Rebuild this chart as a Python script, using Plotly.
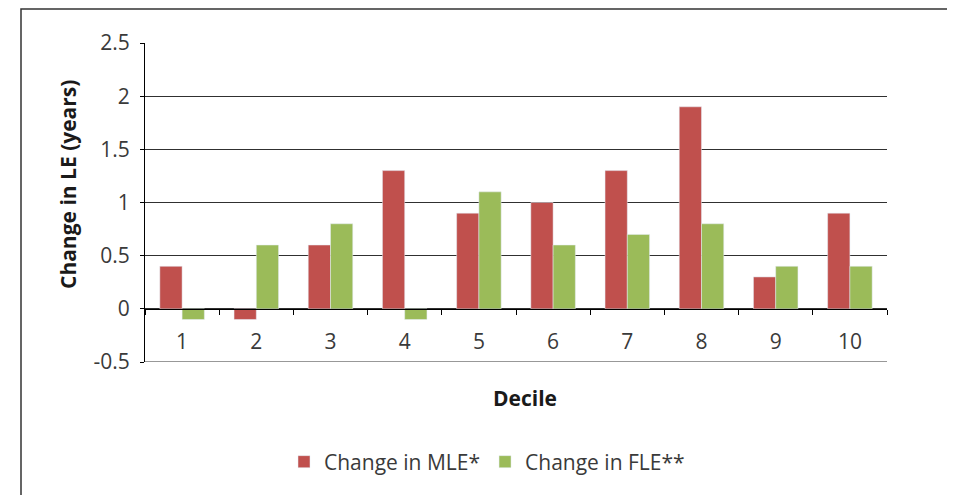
import plotly.graph_objects as go

deciles = ["1", "2", "3", "4", "5", "6", "7", "8", "9", "10"]
mle = [0.4, -0.1, 0.6, 1.3, 0.9, 1.0, 1.3, 1.9, 0.3, 0.9]
fle = [-0.1, 0.6, 0.8, -0.1, 1.1, 0.6, 0.7, 0.8, 0.4, 0.4]
y_ticks = [-0.5, 0, 0.5, 1, 1.5, 2, 2.5]
y_tick_text = ["-0.5", "0", "0.5", "1", "1.5", "2", "2.5"]

OFF = 8  # browser body margin
W, H = 955 - OFF, 495 - OFF
L, T = 145 - OFF, 43 - OFF
PW, PH = 742, 319
R, B = W - L - PW, H - T - PH

def px_x(x):  # page px -> paper fraction
    return (x - OFF - L) / PW

def px_y(y):
    return (T + PH - (y - OFF)) / PH

FONT = "Open Sans"
TXT = "#3a3a3a"
FS = 21
GRID = "#303030"

fig = go.Figure()
fig.add_trace(go.Bar(x=deciles, y=mle, name="Change in MLE*", marker_color="#C0504D"))
fig.add_trace(go.Bar(x=deciles, y=fle, name="Change in FLE**", marker_color="#9BBB59"))

fig.update_layout(
    width=W, height=H,
    margin=dict(l=L, r=R, t=T, b=B, pad=0),
    paper_bgcolor="white", plot_bgcolor="white",
    barmode="group", bargap=0.4, bargroupgap=0,
    font=dict(family=FONT, size=FS, color=TXT),
    showlegend=True,
    legend=dict(orientation="h", x=px_x(487), y=px_y(462), xanchor="center", yanchor="middle",
                font=dict(family=FONT, size=FS, color=TXT), itemwidth=30,
                traceorder="normal"),
    xaxis=dict(
        type="category", anchor="free", position=1/6,
        showline=True, linecolor="#000000", linewidth=1,
        ticks="outside", tickson="boundaries", ticklen=5, tickcolor="#000000",
        ticklabelstandoff=14, showgrid=False, zeroline=False,
        tickfont=dict(family=FONT, size=FS, color=TXT),
    ),
    yaxis=dict(
        range=[-0.5, 2.5], tickvals=y_ticks, ticktext=y_tick_text,
        showline=True, linecolor="#000000", linewidth=1,
        ticks="outside", ticklen=4, tickcolor="#000000",
        showgrid=True, gridcolor=GRID, gridwidth=1,
        zeroline=False, ticklabelstandoff=6,
        tickfont=dict(family=FONT, size=FS, color=TXT),
    ),
    annotations=[
        dict(text="<b>Change in LE (years)</b>", xref="paper", yref="paper",
             x=px_x(68), y=px_y(185), textangle=-90, showarrow=False,
             xanchor="center", yanchor="middle",
             font=dict(family=FONT, size=FS, color="#1a1a1a")),
        dict(text="<b>Decile</b>", xref="paper", yref="paper",
             x=px_x(525), y=px_y(398), showarrow=False,
             xanchor="center", yanchor="middle",
             font=dict(family=FONT, size=FS, color="#1a1a1a")),
    ],
    shapes=[
        dict(type="line", xref="paper", yref="y", x0=0, x1=1, y0=-0.5, y1=-0.5,
             line=dict(color=GRID, width=1)),
        dict(type="path", xref="paper", yref="paper",
             path=f"M {px_x(21)},{px_y(500)} L {px_x(21)},{px_y(9)} L {px_x(953)},{px_y(9)} L {px_x(953)},{px_y(500)}",
             line=dict(color="#333333", width=1.5)),
    ],
)

fig.write_html("out.html")
